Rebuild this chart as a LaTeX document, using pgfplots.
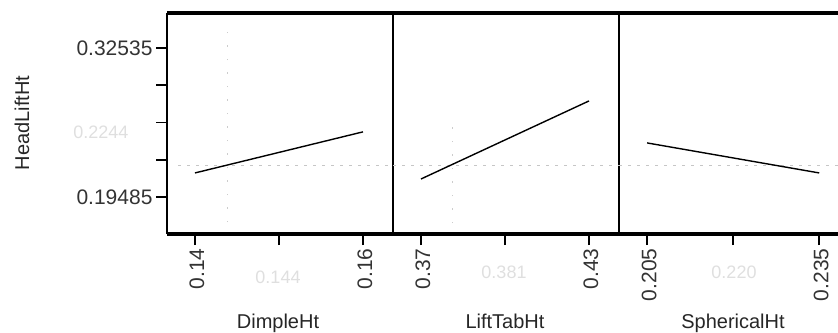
\documentclass[border=0pt]{standalone}
\usepackage{pgfplots}
\pgfplotsset{compat=1.18}
\usepackage{fontspec}
\setmainfont{Liberation Sans}
\begin{document}
\begin{tikzpicture}[x=1pt,y=1pt]
\useasboundingbox (0,0) rectangle (838,332);
\begin{scope}
\clip (0,0) rectangle (838,332);
\pgfplotsset{
  panel/.style={
    scale only axis, width=226pt, height=221pt, anchor=south west,
    ymin=0.1624, ymax=0.35605,
    separate axis lines,
    x axis line style={line width=3.2pt, black},
    y axis line style={line width=2.6pt, black},
    tick align=outside, major tick length=11pt,
    tick style={line width=1.8pt, black},
    xtick pos=lower, ytick pos=left,
    minor tick num=0,
    /pgf/number format/assume math mode=true,
    font=\fontsize{20}{24}\selectfont,
    xticklabel style={rotate=90, anchor=east, yshift=-2pt, font=\fontsize{21}{25}\selectfont, text=black!80},
    yticklabel style={xshift=0pt, font=\fontsize{21}{25}\selectfont, text=black!80},
    ytick=\empty,
  },
  refline/.style={gray!45, line width=0.8pt, dash pattern=on 3pt off 6pt},
  vline/.style={gray!40, line width=0.9pt, dash pattern=on 1.5pt off 12pt},
  dline/.style={black, line width=1.4pt},
}
% left panel
\begin{axis}[panel, at={(167pt,98pt)},
  xmin=0.13667, xmax=0.16357,
  xtick={0.14,0.15,0.16}, xticklabels={\mbox{0.14},,\mbox{0.16}},
  ytick={0.19485,0.227475,0.2601,0.292725,0.32535},
  yticklabels={\mbox{0.19485},,,,\mbox{0.32535}}]
\addplot[refline] coordinates {(0.1380,0.2229) (0.16357,0.2229)};
\addplot[vline] coordinates {(0.1439,0.1729) (0.1439,0.3394)};
\addplot[dline] coordinates {(0.14,0.2159) (0.16,0.2519)};
\end{axis}
% middle panel
\begin{axis}[panel, at={(393pt,98pt)},
  xmin=0.36, xmax=0.44071,
  xtick={0.37,0.40,0.43}, xticklabels={\mbox{0.37},,\mbox{0.43}}]
\addplot[refline] coordinates {(0.36,0.2229) (0.44071,0.2229)};
\addplot[vline] coordinates {(0.3811,0.1720) (0.3811,0.2620)};
\addplot[dline] coordinates {(0.37,0.2106) (0.43,0.2790)};
\end{axis}
% right panel
\begin{axis}[panel, at={(619pt,98pt)},
  y axis line style={draw=none},
  xmin=0.2001, xmax=0.2395,
  xtick={0.205,0.220,0.235}, xticklabels={\mbox{0.205},,\mbox{0.235}}]
\addplot[refline] coordinates {(0.2001,0.2229) (0.2395,0.2229)};
\addplot[dline] coordinates {(0.205,0.2422) (0.235,0.2159)};
\end{axis}
% faint labels
\node[text=gray!25, font=\fontsize{18}{22}\selectfont] at (278,55) {0.144};
\node[text=gray!25, font=\fontsize{18}{22}\selectfont] at (504,60) {0.381};
\node[text=gray!25, font=\fontsize{18}{22}\selectfont] at (734,60) {0.220};
\node[text=gray!25, font=\fontsize{18}{22}\selectfont, anchor=east] at (132,200) {0.2244};
% axis titles
\node[anchor=base, font=\fontsize{20}{24}\selectfont, text=black!85] at (278,3) {DimpleHt};
\node[anchor=base, font=\fontsize{20}{24}\selectfont, text=black!85] at (505,3) {LiftTabHt};
\node[anchor=base, font=\fontsize{20}{24}\selectfont, text=black!85] at (733,3) {SphericalHt};
\node[rotate=90, font=\fontsize{20}{24}\selectfont, text=black!85] at (22,209) {HeadLiftHt};
\end{scope}
\end{tikzpicture}
\end{document}
